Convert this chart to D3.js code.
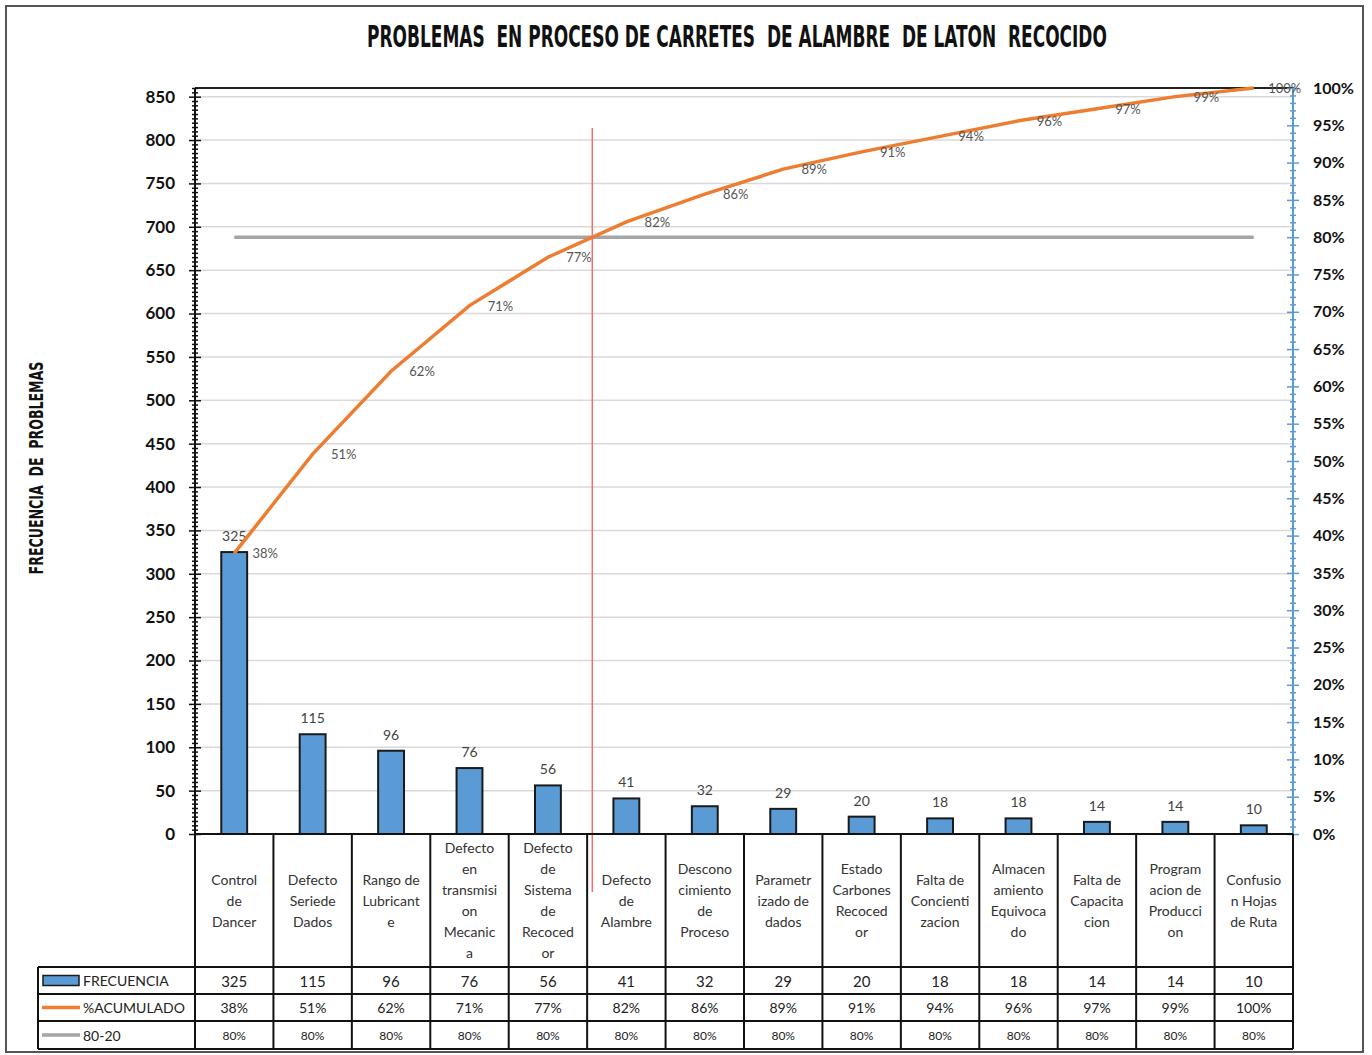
<!DOCTYPE html>
<html>
<head>
<meta charset="utf-8">
<script src="https://cdn.jsdelivr.net/npm/d3@7"></script>
<style>
  body { margin: 0; background: #fff; }
  svg { display: block; }
</style>
</head>
<body>
<div id="chart"></div>
<script>
// data
const categories = [
    "Control de Dancer", "Defecto Seriede Dados", "Rango de Lubricante",
    "Defecto en transmision Mecanica", "Defecto de Sistema de Recocedor",
    "Defecto de Alambre", "Desconocimiento de Proceso", "Parametrizado de dados",
    "Estado Carbones Recocedor", "Falta de Concientizacion",
    "Almacenamiento Equivocado", "Falta de Capacitacion",
    "Programacion de Produccion", "Confusion Hojas de Ruta",
];
const catLines = [
    ["Control", "de", "Dancer"],
    ["Defecto", "Seriede", "Dados"],
    ["Rango de", "Lubricant", "e"],
    ["Defecto", "en", "transmisi", "on", "Mecanic", "a"],
    ["Defecto", "de", "Sistema", "de", "Recoced", "or"],
    ["Defecto", "de", "Alambre"],
    ["Descono", "cimiento", "de", "Proceso"],
    ["Parametr", "izado de", "dados"],
    ["Estado", "Carbones", "Recoced", "or"],
    ["Falta de", "Concienti", "zacion"],
    ["Almacen", "amiento", "Equivoca", "do"],
    ["Falta de", "Capacita", "cion"],
    ["Program", "acion de", "Producci", "on"],
    ["Confusio", "n Hojas", "de Ruta"],
];
const frecuencia = [325, 115, 96, 76, 56, 41, 32, 29, 20, 18, 18, 14, 14, 10];
const acumuladoLabels = ["38%", "51%", "62%", "71%", "77%", "82%", "86%", "89%", "91%", "94%", "96%", "97%", "99%", "100%"];
const meta = 0.8;
const metaLabel = "80%";
const leftMax = 860;
const leftTicks = d3.range(0, 851, 50);
const rightTicks = d3.range(0, 21).map((d) => d * 0.05);

const ctx = {
    W: 1372,
    H: 1055,
    left: 195,
    right: 1293,
    top: 88,
    bottom: 834,
    tableLeft: 38,
    rowY: [967, 994, 1021, 1049],
    blue: "#5b9bd5",
    orange: "#ed7d31",
    grey: "#a5a5a5",
};

const svg = d3.select("#chart").append("svg")
    .attr("width", ctx.W)
    .attr("height", ctx.H);

svg.append("rect").attr("width", ctx.W).attr("height", ctx.H).attr("fill", "#fff");

// outer frame
svg.append("rect")
    .attr("x", 6).attr("y", 6)
    .attr("width", 1357).attr("height", 1046)
    .attr("fill", "none").attr("stroke", "#555").attr("stroke-width", 2);

const total = d3.sum(frecuencia);
const cum = Array.from(d3.cumsum(frecuencia), (v) => v / total);

const x = d3.scaleBand().domain(d3.range(categories.length)).range([ctx.left, ctx.right]);
const cx = (i) => x(i) + x.bandwidth() / 2;
const yL = d3.scaleLinear().domain([0, leftMax]).range([ctx.bottom, ctx.top]);
const yR = d3.scaleLinear().domain([0, 1]).range([ctx.bottom, ctx.top]);

// condensed text: draw then squeeze horizontally to a target width
function squeezed(g, str, size, width) {
    const t = g.append("text")
        .attr("text-anchor", "middle")
        .style("font-family", "'DejaVu Sans Condensed', 'DejaVu Sans'")
        .style("font-weight", "bold")
        .style("font-size", size + "px")
        .style("white-space", "pre")
        .attr("fill", "#111")
        .text(str);
    const w = t.node().getComputedTextLength();
    t.attr("transform", `scale(${width / w},1)`);
    return t;
}

squeezed(svg.append("g").attr("transform", "translate(737,47)"),
    "PROBLEMAS  EN PROCESO DE CARRETES  DE ALAMBRE  DE LATON  RECOCIDO", 31, 740);
squeezed(svg.append("g").attr("transform", "translate(43,468) rotate(-90)"),
    "FRECUENCIA  DE  PROBLEMAS", 19, 213);

// gridlines
svg.append("g").selectAll("line")
    .data(leftTicks.filter((d) => d > 0))
    .join("line")
    .attr("x1", ctx.left).attr("x2", ctx.right)
    .attr("y1", (d) => yL(d)).attr("y2", (d) => yL(d))
    .attr("stroke", "#d9d9d9").attr("stroke-width", 1.5);

// top border of plot
svg.append("line")
    .attr("x1", ctx.left).attr("x2", ctx.right)
    .attr("y1", ctx.top).attr("y2", ctx.top)
    .attr("stroke", "#222").attr("stroke-width", 2);

// left axis
const minorL = d3.range(0, leftMax + 1, 5).filter((d) => d % 50 !== 0);
const gLminor = svg.append("g")
    .attr("transform", `translate(${ctx.left},0)`)
    .call(d3.axisLeft(yL).tickValues(minorL).tickFormat("").tickSize(3));
gLminor.select(".domain").remove();
gLminor.selectAll(".tick line").attr("x1", -3).attr("x2", 3).attr("stroke", "#111").attr("stroke-width", 1.5);

const gL = svg.append("g")
    .attr("transform", `translate(${ctx.left},0)`)
    .call(d3.axisLeft(yL).tickValues(leftTicks).tickSize(6).tickPadding(14).tickSizeOuter(0));
gL.select(".domain").attr("d", `M0,${ctx.top}V${ctx.bottom}`).attr("stroke", "#111").attr("stroke-width", 2);
gL.selectAll(".tick line").attr("x1", -6).attr("x2", 6).attr("stroke", "#111").attr("stroke-width", 1.5);
gL.selectAll(".tick text")
    .style("font-family", "Lato, 'Open Sans', sans-serif")
    .style("font-weight", "bold")
    .style("font-size", "17px")
    .attr("fill", "#111");

// right axis
const minorR = d3.range(0, 101, 1).filter((d) => d % 5 !== 0).map((d) => d / 100);
const gRminor = svg.append("g")
    .attr("transform", `translate(${ctx.right},0)`)
    .call(d3.axisRight(yR).tickValues(minorR).tickFormat("").tickSize(3));
gRminor.select(".domain").remove();
gRminor.selectAll(".tick line").attr("x1", -3).attr("x2", 3).attr("stroke", ctx.blue).attr("stroke-width", 1.5);

const gR = svg.append("g")
    .attr("transform", `translate(${ctx.right},0)`)
    .call(d3.axisRight(yR).tickValues(rightTicks).tickFormat(d3.format(".0%")).tickSize(6).tickPadding(14).tickSizeOuter(0));
gR.select(".domain").attr("d", `M0,${ctx.top}V${ctx.bottom}`).attr("stroke", ctx.blue).attr("stroke-width", 2);
gR.selectAll(".tick line").attr("x1", -6).attr("x2", 6).attr("stroke", ctx.blue).attr("stroke-width", 1.5);
gR.selectAll(".tick text")
    .style("font-family", "Lato, 'Open Sans', sans-serif")
    .style("font-weight", "bold")
    .style("font-size", "16px")
    .attr("fill", "#111");

// bars
const barW = x.bandwidth() * 0.33;
svg.append("g").selectAll("rect")
    .data(frecuencia)
    .join("rect")
    .attr("x", (d, i) => cx(i) - barW / 2)
    .attr("y", (d) => yL(d))
    .attr("width", barW)
    .attr("height", (d) => yL(0) - yL(d))
    .attr("fill", ctx.blue)
    .attr("stroke", "#1a1a1a")
    .attr("stroke-width", 2);

svg.append("g").selectAll("text")
    .data(frecuencia)
    .join("text")
    .attr("x", (d, i) => cx(i))
    .attr("y", (d) => yL(d) - 11)
    .attr("text-anchor", "middle")
    .style("font-family", "Lato, 'Open Sans', sans-serif")
    .style("font-size", "14px")
    .attr("fill", "#444")
    .text((d) => d);

// 80-20 line
svg.append("line")
    .attr("x1", cx(0)).attr("x2", cx(categories.length - 1))
    .attr("y1", yR(meta)).attr("y2", yR(meta))
    .attr("stroke", ctx.grey).attr("stroke-width", 3.5);

// cumulative line
svg.append("path")
    .datum(cum)
    .attr("d", d3.line().x((d, i) => cx(i)).y((d) => yR(d)))
    .attr("fill", "none")
    .attr("stroke", ctx.orange)
    .attr("stroke-width", 3.5);

svg.append("g").selectAll("text")
    .data(cum)
    .join("text")
    .attr("x", (d, i) => cx(i) + 31)
    .attr("y", (d) => yR(d) + 5)
    .attr("text-anchor", "middle")
    .style("font-family", "Lato, 'Open Sans', sans-serif")
    .style("font-size", "13px")
    .attr("fill", "#555")
    .text((d, i) => acumuladoLabels[i]);

// red cut line where cumulative crosses 80%
const k = cum.findIndex((d) => d >= meta);
const t = (meta - cum[k - 1]) / (cum[k] - cum[k - 1]);
const xCut = cx(k - 1) + t * (cx(k) - cx(k - 1));
svg.append("line")
    .attr("x1", xCut).attr("x2", xCut)
    .attr("y1", 128).attr("y2", 892)
    .attr("stroke", "#f26d6d").attr("stroke-width", 1.5);

// table grid
const grid = svg.append("g").attr("stroke", "#111").attr("stroke-width", 2);
grid.selectAll("line.v")
    .data(d3.range(categories.length + 1))
    .join("line")
    .attr("class", "v")
    .attr("x1", (i) => (i < categories.length ? x(i) : ctx.right))
    .attr("x2", (i) => (i < categories.length ? x(i) : ctx.right))
    .attr("y1", ctx.bottom).attr("y2", ctx.rowY[3]);
grid.append("line")
    .attr("x1", ctx.left).attr("x2", ctx.right)
    .attr("y1", ctx.bottom).attr("y2", ctx.bottom);
grid.selectAll("line.h")
    .data(ctx.rowY)
    .join("line")
    .attr("class", "h")
    .attr("x1", ctx.tableLeft).attr("x2", ctx.right)
    .attr("y1", (d) => d).attr("y2", (d) => d);
grid.append("line")
    .attr("x1", ctx.tableLeft).attr("x2", ctx.tableLeft)
    .attr("y1", ctx.rowY[0]).attr("y2", ctx.rowY[3]);

// category labels
const catG = svg.append("g")
    .style("font-family", "Lato, 'Open Sans', sans-serif")
    .style("font-size", "14px")
    .attr("fill", "#333")
    .attr("text-anchor", "middle");
catLines.forEach((lines, i) => {
    const mid = 900;
    lines.forEach((ln, j) => {
        catG.append("text")
            .attr("x", cx(i))
            .attr("y", mid + (j - (lines.length - 1) / 2) * 21)
            .attr("dominant-baseline", "central")
            .text(ln);
    });
});

// data table rows
const rowMid = (r) => (ctx.rowY[r] + ctx.rowY[r + 1]) / 2;
const rows = [
    { vals: frecuencia.map(String), size: "15px" },
    { vals: acumuladoLabels, size: "14px" },
    { vals: frecuencia.map(() => metaLabel), size: "12px" },
];
rows.forEach((row, r) => {
    svg.append("g").selectAll("text")
        .data(row.vals)
        .join("text")
        .attr("x", (d, i) => cx(i))
        .attr("y", rowMid(r))
        .attr("dominant-baseline", "central")
        .attr("text-anchor", "middle")
        .style("font-family", "Lato, 'Open Sans', sans-serif")
        .style("font-size", row.size)
        .attr("fill", "#222")
        .text((d) => d);
});

// legend keys in table
svg.append("rect")
    .attr("x", 43).attr("y", rowMid(0) - 5)
    .attr("width", 36).attr("height", 10)
    .attr("fill", ctx.blue).attr("stroke", "#1a1a1a").attr("stroke-width", 1.5);
svg.append("line")
    .attr("x1", 42).attr("x2", 80)
    .attr("y1", rowMid(1)).attr("y2", rowMid(1))
    .attr("stroke", ctx.orange).attr("stroke-width", 3.5);
svg.append("line")
    .attr("x1", 42).attr("x2", 80)
    .attr("y1", rowMid(2)).attr("y2", rowMid(2))
    .attr("stroke", ctx.grey).attr("stroke-width", 3.5);
svg.append("g").selectAll("text")
    .data(["FRECUENCIA", "%ACUMULADO", "80-20"])
    .join("text")
    .attr("x", 83)
    .attr("y", (d, i) => rowMid(i))
    .attr("dominant-baseline", "central")
    .style("font-family", "Lato, 'Open Sans', sans-serif")
    .style("font-size", "14px")
    .attr("fill", "#222")
    .text((d) => d);
</script>
</body>
</html>
